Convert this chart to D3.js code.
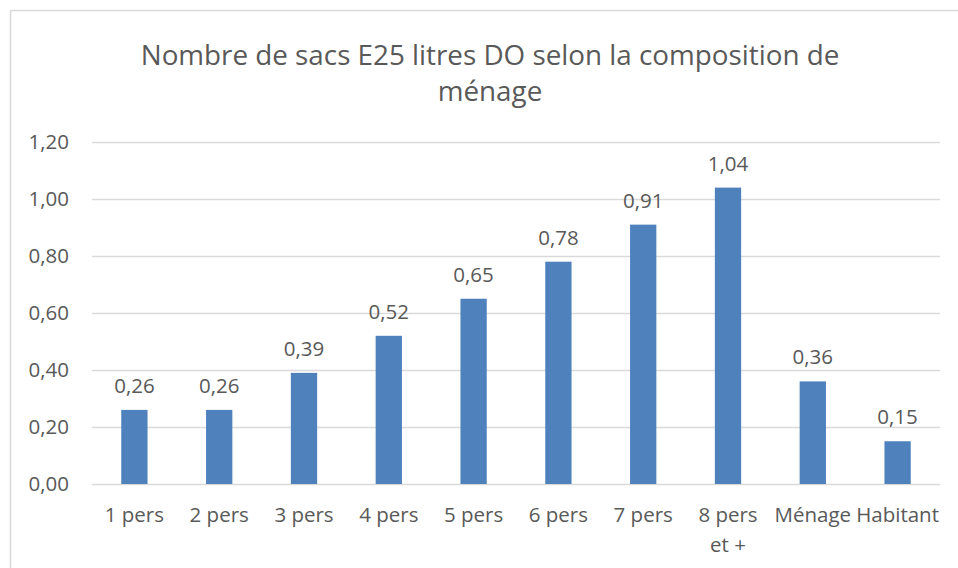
<!DOCTYPE html>
<meta charset="utf-8">
<style>
  body { margin: 0; background: #fff; }
  text { font-family: 'Open Sans', 'Liberation Sans', sans-serif; fill: #595959; }
  .grid line { stroke: #d9d9d9; stroke-width: 1.3px; }
  .grid .domain { display: none; }
</style>
<svg width="958" height="568"></svg>
<script src="https://d3js.org/d3.v7.min.js"></script>
<script>
var categories = ["1 pers", "2 pers", "3 pers", "4 pers", "5 pers", "6 pers", "7 pers", "8 pers|et +", "Ménage", "Habitant"],
    values = [0.26, 0.26, 0.39, 0.52, 0.65, 0.78, 0.91, 1.04, 0.36, 0.15],
    yTicks = [0, 0.2, 0.4, 0.6, 0.8, 1.0, 1.2],
    titleLines = ["Nombre de sacs E25 litres DO selon la composition de", "ménage"];

var svg = d3.select("svg"),
    margin = { top: 142, right: 18, bottom: 84, left: 92 },
    width = +svg.attr("width") - margin.left - margin.right,
    height = +svg.attr("height") - margin.top - margin.bottom;

var fmt = function (v) { return d3.format(".2f")(v).replace(".", ","); };

// chart area border (runs off the right / bottom of the capture)
svg.append("rect")
    .attr("x", 10.5).attr("y", 10.5)
    .attr("width", 1000).attr("height", 1000)
    .attr("fill", "none")
    .attr("stroke", "#d9d9d9")
    .attr("stroke-width", 1.5);

svg.append("text")
    .attr("x", 490)
    .attr("y", 65)
    .attr("text-anchor", "middle")
    .style("font-size", "27.8px")
    .selectAll("tspan")
    .data(titleLines)
    .join("tspan")
    .attr("x", 490)
    .attr("dy", function (d, i) { return i ? 36 : 0; })
    .text(function (d) { return d; });

var g = svg.append("g").attr("transform", "translate(" + margin.left + "," + margin.top + ")");

var x = d3.scaleBand()
    .domain(categories)
    .range([0, width])
    .paddingInner(0.69)
    .paddingOuter(0.345);

var y = d3.scaleLinear()
    .domain([0, 1.2])
    .range([height, 0]);

g.append("g")
    .attr("class", "grid")
    .call(d3.axisLeft(y).tickValues(yTicks).tickSize(-width).tickFormat(""));

g.selectAll(".ylab")
    .data(yTicks)
    .join("text")
    .attr("class", "ylab")
    .attr("x", -23)
    .attr("y", function (d) { return y(d); })
    .attr("dy", "0.35em")
    .attr("text-anchor", "end")
    .style("font-size", "20.5px")
    .text(fmt);

g.selectAll(".bar")
    .data(values)
    .join("rect")
    .attr("class", "bar")
    .attr("x", function (d, i) { return x(categories[i]); })
    .attr("width", x.bandwidth())
    .attr("y", function (d) { return y(d); })
    .attr("height", function (d) { return height - y(d); })
    .attr("fill", "#4f81bd");

g.selectAll(".vlab")
    .data(values)
    .join("text")
    .attr("class", "vlab")
    .attr("x", function (d, i) { return x(categories[i]) + x.bandwidth() / 2; })
    .attr("y", function (d) { return y(d) - 17; })
    .attr("text-anchor", "middle")
    .style("font-size", "20.5px")
    .text(fmt);

var xl = g.selectAll(".xlab")
    .data(categories)
    .join("text")
    .attr("class", "xlab")
    .attr("x", function (d) { return x(d) + x.bandwidth() / 2; })
    .attr("y", height + 38)
    .attr("text-anchor", "middle")
    .style("font-size", "20.5px");

xl.selectAll("tspan")
    .data(function (d) { return d.split("|").map(function (t) { return { t: t, x: x(d) + x.bandwidth() / 2 }; }); })
    .join("tspan")
    .attr("x", function (d) { return d.x; })
    .attr("dy", function (d, i) { return i ? 30 : 0; })
    .text(function (d) { return d.t; });
</script>
